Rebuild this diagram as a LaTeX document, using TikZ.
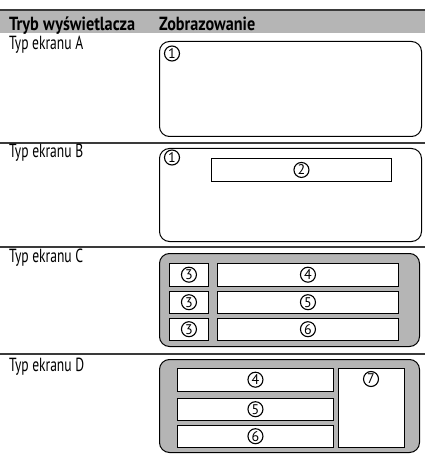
\documentclass[tikz,border=0pt]{standalone}
\usepackage{fontspec}
\usepackage{graphicx}
\setmainfont{PT Sans}
\newfontfamily\headfont{PT Sans Bold}
% set a label to a fixed width, keeping its natural height
\newcommand\fitto[2]{\resizebox{#1}{\height}{#2}}
\definecolor{panelgray}{HTML}{B5B5B5}
\definecolor{rulegray}{HTML}{3A3A3A}
\tikzset{
  x=1pt, y=-1pt,
  screen/.style={draw=black, line width=1pt, rounded corners=10pt, anchor=north west, inner sep=0pt},
  darkscreen/.style={screen, fill=panelgray},
  field/.style={draw=black, fill=white, line width=0.9pt, anchor=north west, inner sep=0pt},
  num/.style={circle, draw=black, line width=1.1pt, minimum size=15pt, inner sep=0pt,
              font=\fontsize{14}{14}\selectfont},
  rowlabel/.style={anchor=base west, inner sep=0pt, font=\fontsize{19}{19}\selectfont},
  headlabel/.style={anchor=base west, inner sep=0pt, font=\fontsize{19}{19}\headfont},
  separator/.style={draw=rulegray, line width=1.1pt},
}
\begin{document}
\begin{tikzpicture}
\useasboundingbox (0,0) rectangle (425,454);

% header band
\fill[panelgray] (0,10) rectangle (425,33);
\draw[draw=rulegray, line width=1.4pt] (0,10) -- (425,10);
\node[headlabel] (hmode) at (9,30.5) {\fitto{126pt}{Tryb wyświetlacza}};
\node[headlabel] (hview) at (159,30.5) {\fitto{96pt}{Zobrazowanie}};

% row separators
\draw[separator] (0,143) -- (425,143);
\draw[separator] (0,247) -- (425,247);
\draw[separator] (0,354) -- (425,354);

% row labels
\node[rowlabel] (la) at (9,50) {\fitto{74pt}{Typ ekranu A}};
\node[rowlabel] (lb) at (9,157.5) {\fitto{74pt}{Typ ekranu B}};
\node[rowlabel] (lc) at (9,262.5) {\fitto{74pt}{Typ ekranu C}};
\node[rowlabel] (ld) at (9,371.5) {\fitto{75pt}{Typ ekranu D}};

% screen type A
\node[screen, minimum width=262pt, minimum height=95pt] (sa) at (159,41) {};
\node[num] (a1) at (172,53.5) {1};

% screen type B
\node[screen, minimum width=262pt, minimum height=93pt] (sb) at (159,148) {};
\node[num] (b1) at (172,157.5) {1};
\node[field, minimum width=180pt, minimum height=23pt] (bf2) at (211,158) {};
\node[num] (b2) at (bf2.center) {2};

% screen type C
\node[darkscreen, minimum width=260pt, minimum height=93pt] (sc) at (159,253) {};
\node[field, minimum width=39pt, minimum height=22.5pt] (c3a) at (169,263) {};
\node[field, minimum width=39pt, minimum height=22.5pt] (c3b) at (169,290.5) {};
\node[field, minimum width=39pt, minimum height=22.5pt] (c3c) at (169,317.5) {};
\node[field, minimum width=181pt, minimum height=22.5pt] (c4) at (217,263) {};
\node[field, minimum width=181pt, minimum height=22.5pt] (c5) at (217,290.5) {};
\node[field, minimum width=181pt, minimum height=22.5pt] (c6) at (217,317.5) {};
\node[num] (n3a) at (c3a.center) {3};
\node[num] (n3b) at (c3b.center) {3};
\node[num] (n3c) at (c3c.center) {3};
\node[num] (n4c) at (c4.center) {4};
\node[num] (n5c) at (c5.center) {5};
\node[num] (n6c) at (c6.center) {6};

% screen type D
\node[darkscreen, minimum width=260pt, minimum height=93pt] (sd) at (159,359) {};
\node[field, minimum width=156pt, minimum height=22.5pt] (d4) at (177,368) {};
\node[field, minimum width=156pt, minimum height=22.5pt] (d5) at (177,397.5) {};
\node[field, minimum width=156pt, minimum height=22.5pt] (d6) at (177,424.5) {};
\node[field, minimum width=66pt, minimum height=79pt] (d7) at (338,368) {};
\node[num] (n4d) at (d4.center) {4};
\node[num] (n5d) at (d5.center) {5};
\node[num] (n6d) at (d6.center) {6};
\node[num] (n7d) at (371,379) {7};
\end{tikzpicture}
\end{document}
